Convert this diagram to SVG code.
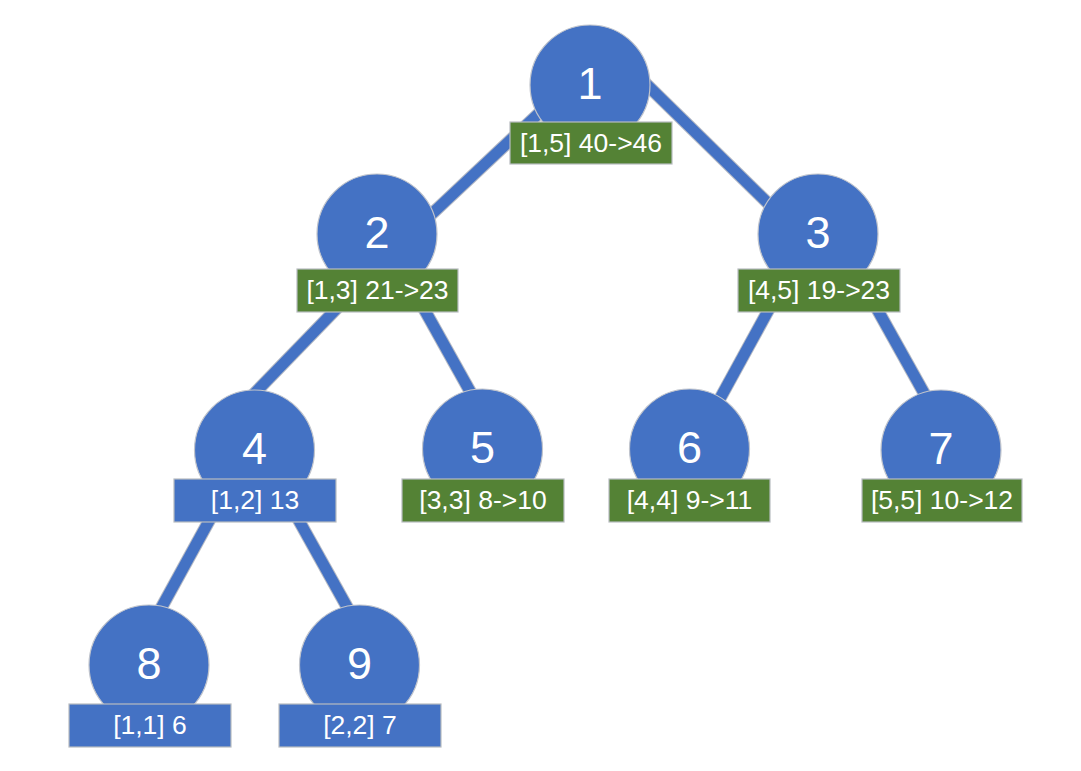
<svg xmlns="http://www.w3.org/2000/svg" width="1081" height="771" viewBox="0 0 1081 771">
<style>
.eo{stroke:#B4B9C4;stroke-width:13;fill:none}
.ei{stroke:#4472C4;stroke-width:11;fill:none}
.c{fill:#4472C4;stroke:#C0C4CC;stroke-width:1.2}
.g{fill:#548235;stroke:#B8BCC0;stroke-width:1.2}
.b{fill:#4472C4;stroke:#B8BCC0;stroke-width:1.2}
.n{font-family:"Liberation Sans",Arial,sans-serif;font-size:45px;fill:#fff;text-anchor:middle}
.l{font-family:"Liberation Sans",Arial,sans-serif;font-size:26.5px;fill:#fff;text-anchor:middle}
</style>
<rect width="1081" height="771" fill="#fff"/>
<g id="connectors">
<line class="eo" x1="550" y1="103" x2="420" y2="225"/>
<line class="ei" x1="550" y1="103" x2="420" y2="225"/>
<line class="eo" x1="640" y1="78" x2="780" y2="215"/>
<line class="ei" x1="640" y1="78" x2="780" y2="215"/>
<line class="eo" x1="345" y1="300" x2="250" y2="398"/>
<line class="ei" x1="345" y1="300" x2="250" y2="398"/>
<line class="eo" x1="419" y1="300" x2="476" y2="402"/>
<line class="ei" x1="419" y1="300" x2="476" y2="402"/>
<line class="eo" x1="774" y1="300" x2="717" y2="404"/>
<line class="ei" x1="774" y1="300" x2="717" y2="404"/>
<line class="eo" x1="872" y1="300" x2="929" y2="402"/>
<line class="ei" x1="872" y1="300" x2="929" y2="402"/>
<line class="eo" x1="215" y1="510" x2="159" y2="612"/>
<line class="ei" x1="215" y1="510" x2="159" y2="612"/>
<line class="eo" x1="293" y1="510" x2="351" y2="614"/>
<line class="ei" x1="293" y1="510" x2="351" y2="614"/>
</g>
<g id="node1"><circle class="c" cx="590" cy="85" r="60"/><text class="n" x="590" y="99">1</text><rect class="g" x="510" y="122" width="162" height="42"/><text class="l" x="591" y="152">[1,5] 40-&gt;46</text></g>
<g id="node2"><circle class="c" cx="377" cy="234" r="60"/><text class="n" x="377" y="248">2</text><rect class="g" x="297" y="269" width="161" height="43"/><text class="l" x="377.5" y="299">[1,3] 21-&gt;23</text></g>
<g id="node3"><circle class="c" cx="818" cy="234" r="60"/><text class="n" x="818" y="248">3</text><rect class="g" x="738" y="269" width="162" height="43"/><text class="l" x="819" y="299">[4,5] 19-&gt;23</text></g>
<g id="node4"><circle class="c" cx="254.5" cy="450" r="60"/><text class="n" x="254.5" y="464">4</text><rect class="b" x="174" y="479" width="162" height="43"/><text class="l" x="255" y="509">[1,2] 13</text></g>
<g id="node5"><circle class="c" cx="482.5" cy="449" r="60"/><text class="n" x="482.5" y="463">5</text><rect class="g" x="402" y="479" width="162" height="43"/><text class="l" x="483" y="509">[3,3] 8-&gt;10</text></g>
<g id="node6"><circle class="c" cx="689.5" cy="449" r="60"/><text class="n" x="689.5" y="463">6</text><rect class="g" x="609" y="479" width="161" height="43"/><text class="l" x="689.5" y="509">[4,4] 9-&gt;11</text></g>
<g id="node7"><circle class="c" cx="941" cy="450" r="60"/><text class="n" x="941" y="464">7</text><rect class="g" x="862" y="479" width="160" height="43"/><text class="l" x="942" y="509">[5,5] 10-&gt;12</text></g>
<g id="node8"><circle class="c" cx="149" cy="665" r="60"/><text class="n" x="149" y="679">8</text><rect class="b" x="69" y="704" width="162" height="43"/><text class="l" x="150" y="734">[1,1] 6</text></g>
<g id="node9"><circle class="c" cx="359.5" cy="665" r="60"/><text class="n" x="359.5" y="679">9</text><rect class="b" x="279" y="704" width="162" height="43"/><text class="l" x="360" y="734">[2,2] 7</text></g>
</svg>
